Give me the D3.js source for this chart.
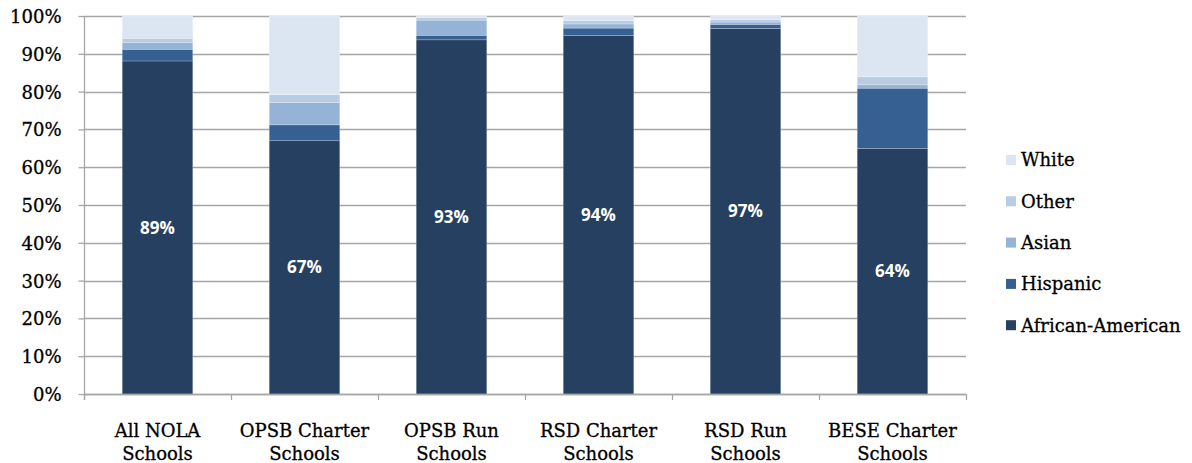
<!DOCTYPE html>
<html><head><meta charset="utf-8">
<script src="https://cdn.jsdelivr.net/npm/d3@7"></script>
<style>
html,body{margin:0;padding:0;background:#fff;}
svg{display:block;}
</style></head>
<body>
<svg id="chart" width="1192" height="463"></svg>
<script>
const categories = [["All NOLA","Schools"],["OPSB Charter","Schools"],["OPSB Run","Schools"],["RSD Charter","Schools"],["RSD Run","Schools"],["BESE Charter","Schools"]];
const seriesNames = ["African-American","Hispanic","Asian","Other","White"];
const africanAmerican = [88.1, 67.0, 93.7, 94.8, 96.7, 65.0];
const hispanic        = [3.1, 4.2, 1.2, 2.0, 1.1, 15.9];
const asian           = [1.8, 5.9, 4.0, 1.1, 0.6, 0.9];
const other           = [1.1, 2.1, 0.6, 0.9, 0.6, 2.1];
const white           = [5.9, 20.8, 0.5, 1.2, 1.0, 16.1];
const barLabels = ["89%","67%","93%","94%","97%","64%"];
const yTicks = [0,10,20,30,40,50,60,70,80,90,100];
const colors = ["#264061","#366092","#95B3D7","#B8CCE4","#DCE6F2"];

(function(){
const seriesValues = [africanAmerican, hispanic, asian, other, white];
const rows = categories.map((c,i)=>{
  const r = {key:i};
  seriesNames.forEach((s,j)=> r[s]=seriesValues[j][i]);
  return r;
});

const svg = d3.select("#chart");
const pL = 84, pR = 966, pT = 16, pB = 394;
const serif = "'DejaVu Serif', serif";
const fs = 18;
function thick(sel){ return sel.attr("stroke","#000").attr("stroke-width",0.3); }

const x = d3.scaleBand().domain(d3.range(categories.length)).range([pL,pR]).paddingInner(0.52).paddingOuter(0.26);
const y = d3.scaleLinear().domain([0,100]).range([pB,pT]);

// gridlines
svg.append("g").selectAll("line").data(yTicks).join("line")
  .attr("x1",pL).attr("x2",pR)
  .attr("y1",d=>Math.round(y(d))+0.5).attr("y2",d=>Math.round(y(d))+0.5)
  .attr("stroke","#a6a6a6").attr("stroke-width",1.3);

// y axis
const yAxis = d3.axisLeft(y).tickValues(yTicks).tickFormat(d=>d+"%").tickSize(6).tickPadding(17);
const gy = svg.append("g").attr("transform",`translate(${pL+0.5},0)`).call(yAxis);
gy.select(".domain").attr("stroke","#a6a6a6").attr("stroke-width",1.3).attr("d",`M0,${pT}V${pB+6}`);
gy.selectAll(".tick line").attr("stroke","#a6a6a6").attr("stroke-width",1.3);
thick(gy.selectAll("text").attr("font-family",serif).attr("font-size",fs).attr("fill","#000").attr("dy","0.36em"));

// stacked bars
const stack = d3.stack().keys(seriesNames)(rows);
svg.append("g").selectAll("g").data(stack).join("g")
  .attr("fill",(d,i)=>colors[i])
  .selectAll("rect").data(d=>d).join("rect")
  .attr("x",(d,i)=>x(i)).attr("width",x.bandwidth())
  .attr("y",d=>y(d[1])).attr("height",d=>y(d[0])-y(d[1]))
  .attr("stroke","#ffffff").attr("stroke-opacity",0.35).attr("stroke-width",0.6);

// x axis baseline and boundary ticks
const xb = svg.append("g");
xb.append("line").attr("x1",pL).attr("x2",pR).attr("y1",pB+0.5).attr("y2",pB+0.5)
  .attr("stroke","#a6a6a6").attr("stroke-width",1.3);
xb.selectAll("line.t").data(d3.range(categories.length+1)).join("line").attr("class","t")
  .attr("x1",i=>pL+0.5+i*(pR-pL)/categories.length).attr("x2",i=>pL+0.5+i*(pR-pL)/categories.length)
  .attr("y1",pB).attr("y2",pB+6).attr("stroke","#a6a6a6").attr("stroke-width",1.3);

// category labels
const cl = svg.append("g").selectAll("text").data(categories).join("text")
  .attr("x",(d,i)=>x(i)+x.bandwidth()/2).attr("y",437)
  .attr("text-anchor","middle").attr("font-family",serif).attr("font-size",fs).attr("fill","#000");
thick(cl);
cl.selectAll("tspan").data(d=>d).join("tspan")
  .attr("x",function(){return this.parentNode.getAttribute("x");})
  .attr("dy",(d,i)=>i===0?0:23).text(d=>d);

// bar labels
svg.append("g").selectAll("text").data(barLabels).join("text")
  .attr("x",(d,i)=>x(i)+x.bandwidth()/2)
  .attr("y",(d,i)=>y(africanAmerican[i]/2))
  .attr("dy","0.36em").attr("text-anchor","middle")
  .attr("font-family","'Open Sans', sans-serif").attr("font-weight","bold").attr("font-size",17)
  .attr("fill","#fff").text(d=>d);

// legend (reverse order)
const legendOrder = seriesNames.map((s,i)=>({name:s,color:colors[i]})).reverse();
const lg = svg.append("g").selectAll("g").data(legendOrder).join("g")
  .attr("transform",(d,i)=>`translate(1006,${160+i*41.3})`);
lg.append("rect").attr("x",0).attr("y",-5).attr("width",10).attr("height",10).attr("fill",d=>d.color);
thick(lg.append("text").attr("x",15).attr("y",0).attr("dy","0.36em")
  .attr("font-family",serif).attr("font-size",fs).attr("fill","#000").text(d=>d.name));
})();
</script>
</body></html>
